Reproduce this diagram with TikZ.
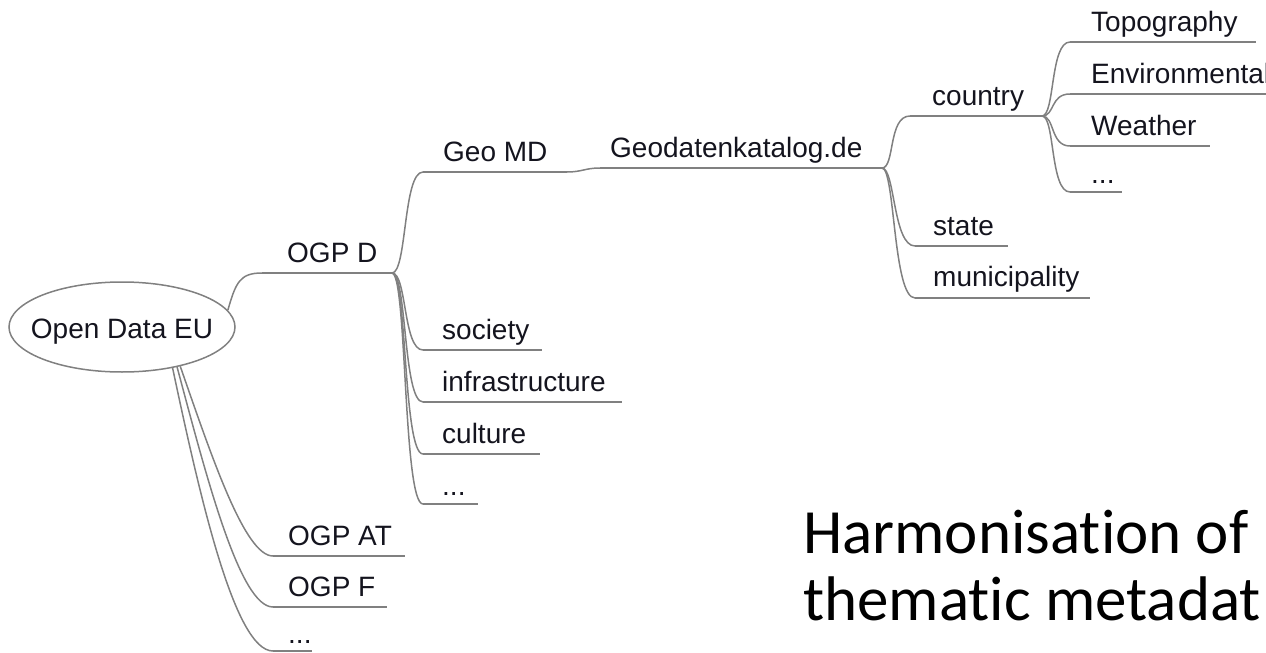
\documentclass[tikz,border=0pt]{standalone}
\usepackage{fontspec}
\setmainfont{Liberation Sans}
\newfontfamily\calibrif[Ligatures={NoCommon}]{Carlito}
\usetikzlibrary{shapes.geometric}
\definecolor{linegray}{RGB}{128,128,128}
\definecolor{txt}{RGB}{20,20,30}
\tikzset{
  lnk/.style={draw=linegray, line width=1.5pt},
  lbl/.style={anchor=base west, inner sep=0pt, text=txt, font=\fontsize{28}{30}\selectfont},
  ttl/.style={anchor=base west, inner sep=0pt, text=black, font=\calibrif\fontsize{63}{67}\selectfont},
}
\begin{document}
\begin{tikzpicture}[x=1pt, y=-1pt]
\path[use as bounding box] (0,0) rectangle (1266,653);

% root
\node[ellipse, draw=linegray, line width=1.5pt, minimum width=226pt, minimum height=90pt, inner sep=0pt] (oeu) at (122,327) {};
\node[anchor=base, inner sep=0pt, text=txt, font=\fontsize{28}{30}\selectfont] (oeutxt) at (122,338) {Open Data EU};

% underline coordinates and labels
\coordinate (ogpd-s) at (262,273);  \coordinate (ogpd-e) at (392,273);
\node[lbl] (ogpd) at (287,262) {OGP D};
\coordinate (geomd-s) at (423,172); \coordinate (geomd-e) at (567,172);
\node[lbl] (geomd) at (443,161) {Geo MD};
\coordinate (gkat-s) at (600,168);  \coordinate (gkat-e) at (882,168);
\node[lbl] (gkat) at (610,157) {Geodatenkatalog.de};
\coordinate (country-s) at (910,116); \coordinate (country-e) at (1042,116);
\node[lbl] (country) at (932,105) {country};
\coordinate (topo-s) at (1070,42);  \coordinate (topo-e) at (1256,42);
\node[lbl] (topo) at (1091,31) {Topography};
\coordinate (env-s) at (1070,94);   \coordinate (env-e) at (1280,94);
\node[lbl] (env) at (1091,83) {Environmental};
\coordinate (weather-s) at (1070,146); \coordinate (weather-e) at (1210,146);
\node[lbl] (weather) at (1091,135) {Weather};
\coordinate (cdots-s) at (1070,192); \coordinate (cdots-e) at (1122,192);
\node[lbl] (cdots) at (1091,183) {...};
\coordinate (state-s) at (915,246); \coordinate (state-e) at (1008,246);
\node[lbl] (state) at (933,235) {state};
\coordinate (muni-s) at (915,298);  \coordinate (muni-e) at (1090,298);
\node[lbl] (muni) at (933,286) {municipality};
\coordinate (soc-s) at (423,350);   \coordinate (soc-e) at (542,350);
\node[lbl] (soc) at (442,339) {society};
\coordinate (infra-s) at (423,402); \coordinate (infra-e) at (622,402);
\node[lbl] (infra) at (442,391) {infrastructure};
\coordinate (cult-s) at (423,454);  \coordinate (cult-e) at (540,454);
\node[lbl] (cult) at (442,443) {culture};
\coordinate (ddots-s) at (423,504); \coordinate (ddots-e) at (478,504);
\node[lbl] (ddots) at (442,495) {...};
\coordinate (ogpat-s) at (273,556); \coordinate (ogpat-e) at (405,556);
\node[lbl] (ogpat) at (288,545) {OGP AT};
\coordinate (ogpf-s) at (273,607);  \coordinate (ogpf-e) at (387,607);
\node[lbl] (ogpf) at (288,596) {OGP F};
\coordinate (edots-s) at (273,651); \coordinate (edots-e) at (312,651);
\node[lbl] (edots) at (288,643) {...};

% underlines
\foreach \n in {ogpd,geomd,gkat,country,topo,env,weather,cdots,state,muni,soc,infra,cult,ddots,ogpat,ogpf,edots}
  \draw[lnk] (\n-s) -- (\n-e);

% connectors
\draw[lnk] (oeu.9) .. controls +(8,-28) and +(-22,0) .. (ogpd-s);
\draw[lnk] (oeu.-34) .. controls +(32,92) and +(-28,0) .. (ogpat-s);
\draw[lnk] (oeu.-36.5) .. controls +(30,112) and +(-33,0) .. (ogpf-s);
\draw[lnk] (oeu.-39) .. controls +(28,132) and +(-38,0) .. (edots-s);

\foreach \c in {geomd,soc,infra,cult,ddots}
  \draw[lnk] (ogpd-e) .. controls +(15,0) and +(-20,0) .. (\c-s);
\draw[lnk] (geomd-e) .. controls +(15,0) and +(-15,0) .. (gkat-s);
\foreach \c in {country,state,muni}
  \draw[lnk] (gkat-e) .. controls +(13,0) and +(-22,0) .. (\c-s);
\foreach \c in {topo,env,weather,cdots}
  \draw[lnk] (country-e) .. controls +(13,0) and +(-20,0) .. (\c-s);

% title
\node[ttl] (title1) at (803,553) {Harmonisation of};
\node[ttl] (title2) at (803,620) {thematic metadat};
\end{tikzpicture}
\end{document}
